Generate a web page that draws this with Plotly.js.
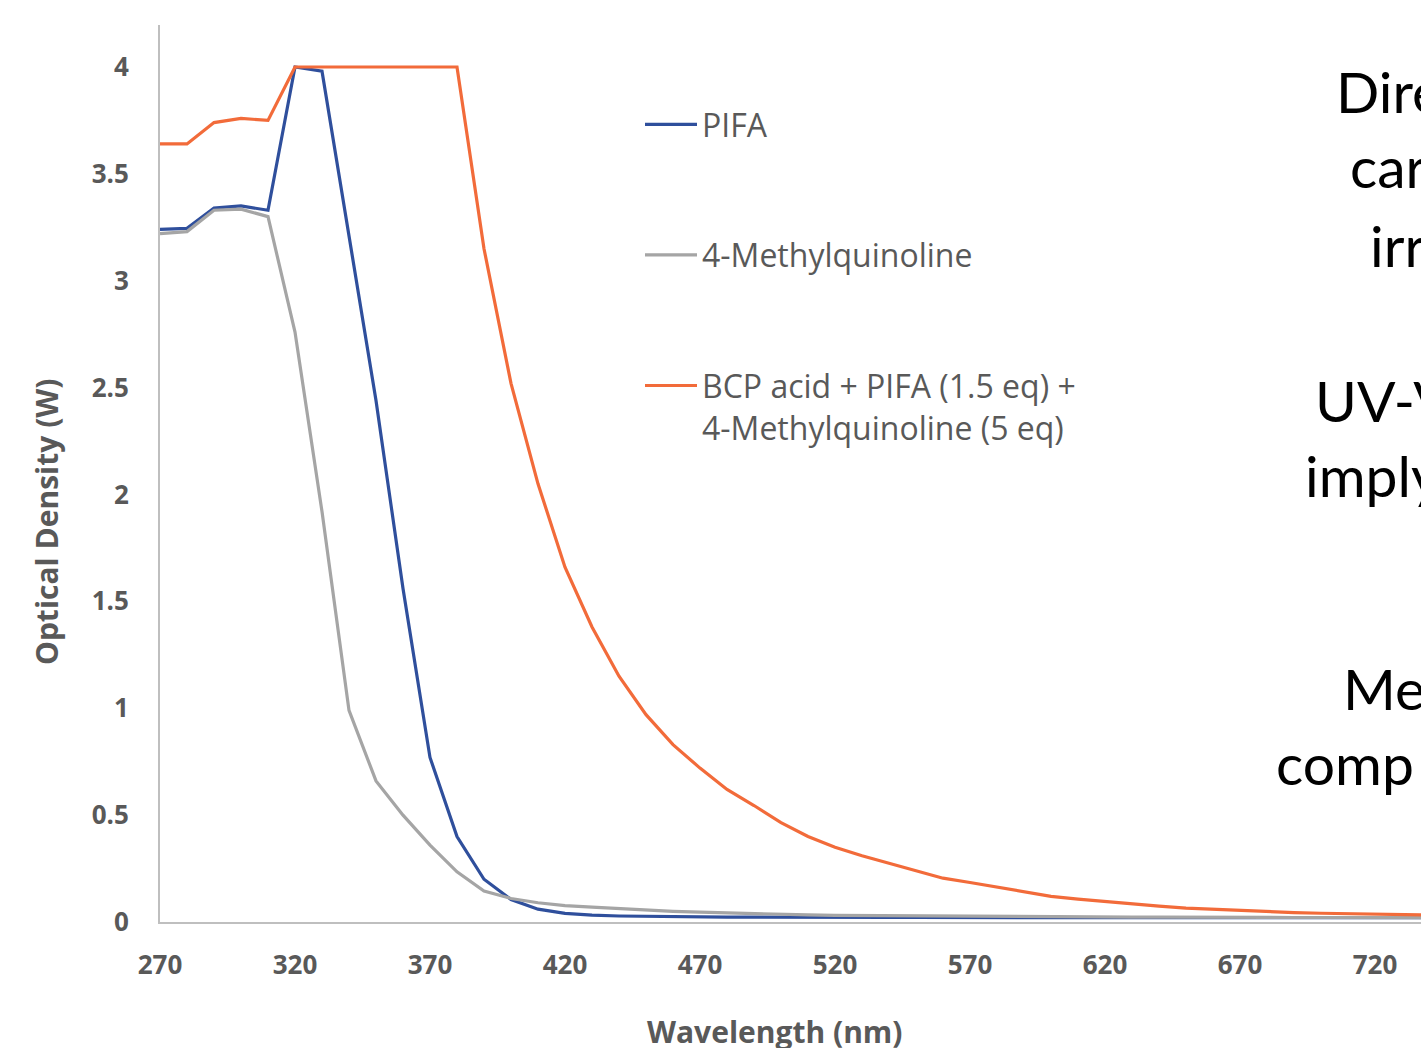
<!DOCTYPE html>
<html>
<head>
<meta charset="utf-8">
<script src="https://cdn.plot.ly/plotly-3.0.1.min.js"></script>
<style>html,body{margin:0;padding:0;background:#fff;overflow:hidden}#chart{width:1421px;height:1048px}</style>
</head>
<body>
<div id="chart"></div>
<script>
// ---- data ----
const wavelength = [270,280,290,300,310,320,330,340,350,360,370,380,390,400,410,420,430,440,450,460,470,480,490,500,510,520,530,540,550,560,570,580,590,600,610,620,630,640,650,660,670,680,690,700,710,720,730,740];
const pifa = [3.24,3.245,3.34,3.35,3.33,4.0,3.98,3.22,2.44,1.56,0.77,0.40,0.20,0.105,0.06,0.04,0.032,0.028,0.026,0.025,0.024,0.023,0.023,0.022,0.022,0.022,0.021,0.021,0.021,0.021,0.021,0.020,0.020,0.020,0.020,0.020,0.020,0.020,0.020,0.020,0.020,0.020,0.020,0.020,0.020,0.020,0.020,0.020];
const methylquinoline = [3.22,3.23,3.33,3.335,3.30,2.76,1.92,0.99,0.66,0.50,0.36,0.235,0.145,0.11,0.09,0.077,0.07,0.063,0.056,0.05,0.046,0.042,0.038,0.035,0.033,0.031,0.03,0.029,0.028,0.027,0.026,0.026,0.025,0.025,0.024,0.024,0.023,0.023,0.022,0.022,0.022,0.021,0.021,0.021,0.020,0.020,0.020,0.020];
const bcpMix = [3.64,3.64,3.74,3.76,3.75,4.0,4.0,4.0,4.0,4.0,4.0,4.0,3.15,2.52,2.05,1.66,1.38,1.15,0.97,0.83,0.72,0.62,0.545,0.465,0.40,0.35,0.31,0.275,0.24,0.205,0.185,0.163,0.14,0.12,0.107,0.095,0.084,0.074,0.065,0.059,0.053,0.048,0.044,0.041,0.038,0.036,0.034,0.033];
const seriesNames = ["PIFA","4-Methylquinoline","BCP acid + PIFA (1.5 eq) +<br>4-Methylquinoline (5 eq)"];
const yTicks = [0,0.5,1,1.5,2,2.5,3,3.5,4];
const xTicks = [270,320,370,420,470,520,570,620,670,720];
const xTitle = "Wavelength (nm)";
const yTitle = "Optical Density (W)";
const sideText = ["Dire","car","irr","UV-V","imply","Me","comp"];

// ---- layout geometry ----
const W = 1421, H = 1048;
const mL = 160, mR = 0, mT = 25, mB = 126;
const plotW = W - mL - mR, plotH = H - mT - mB;
const px2x = p => (p - mL) / plotW;
const px2y = p => (H - mB - p) / plotH;

const colors = ["#2F4F9C", "#A5A5A5", "#F26B3A"];
const ys = [pifa, methylquinoline, bcpMix];
const traces = ys.map((y, i) => ({
  x: wavelength, y: y, type: "scatter", mode: "lines",
  name: seriesNames[i], legendgroup: "g" + i,
  line: {color: colors[i], width: 3.2}
}));

const titleFont = {family: "Open Sans, sans-serif", size: 30, color: "#595959", weight: "bold"};

// side text from the slide (clipped by the page edge, as in the reference)
const sidePos = [[1334,91],[1348,166],[1368,245],[1313,400],[1303,475],[1341,688],[1274,763]];
const annotations = sideText.map((t, i) => ({
  text: t, xref: "paper", yref: "paper",
  x: px2x(sidePos[i][0]), y: px2y(sidePos[i][1]),
  xanchor: "left", yanchor: "middle", showarrow: false,
  font: {family: "Lato, sans-serif", size: 57, color: "#000000"}
}));
// axis titles placed as in the reference
annotations.push({
  text: xTitle, xref: "paper", yref: "paper", x: px2x(775), y: px2y(1031),
  xanchor: "center", yanchor: "middle", showarrow: false, font: titleFont
});
annotations.push({
  text: yTitle, xref: "paper", yref: "paper", x: px2x(46), y: px2y(522),
  xanchor: "center", yanchor: "middle", showarrow: false, textangle: -90, font: titleFont
});

const tickFont = {family: "Open Sans, sans-serif", size: 26, color: "#595959", weight: "bold"};
const layout = {
  width: W, height: H,
  margin: {l: mL, r: mR, t: mT, b: mB, pad: 0},
  paper_bgcolor: "#ffffff", plot_bgcolor: "#ffffff",
  showlegend: true,
  legend: {
    x: px2x(640), y: px2y(97), xanchor: "left", yanchor: "top",
    bgcolor: "rgba(0,0,0,0)", borderwidth: 0,
    font: {family: "Open Sans, sans-serif", size: 32, color: "#595959"},
    traceorder: "grouped", tracegroupgap: 86, valign: "top",
    itemwidth: 52
  },
  xaxis: {
    range: [270, 270 + plotW / 2.7], tickmode: "array", tickvals: xTicks,
    showgrid: false, zeroline: false, showline: true, linecolor: "#BFBFBF", linewidth: 2,
    ticks: "", ticklabelstandoff: 19, tickfont: tickFont
  },
  yaxis: {
    range: [0, plotH / 213.75], tickmode: "array", tickvals: yTicks,
    showgrid: false, zeroline: false, showline: true, linecolor: "#BFBFBF", linewidth: 2,
    ticks: "", ticklabelstandoff: 24, tickfont: tickFont
  },
  annotations: annotations
};

Plotly.newPlot("chart", traces, layout, {displayModeBar: false, staticPlot: true});
</script>
</body>
</html>
